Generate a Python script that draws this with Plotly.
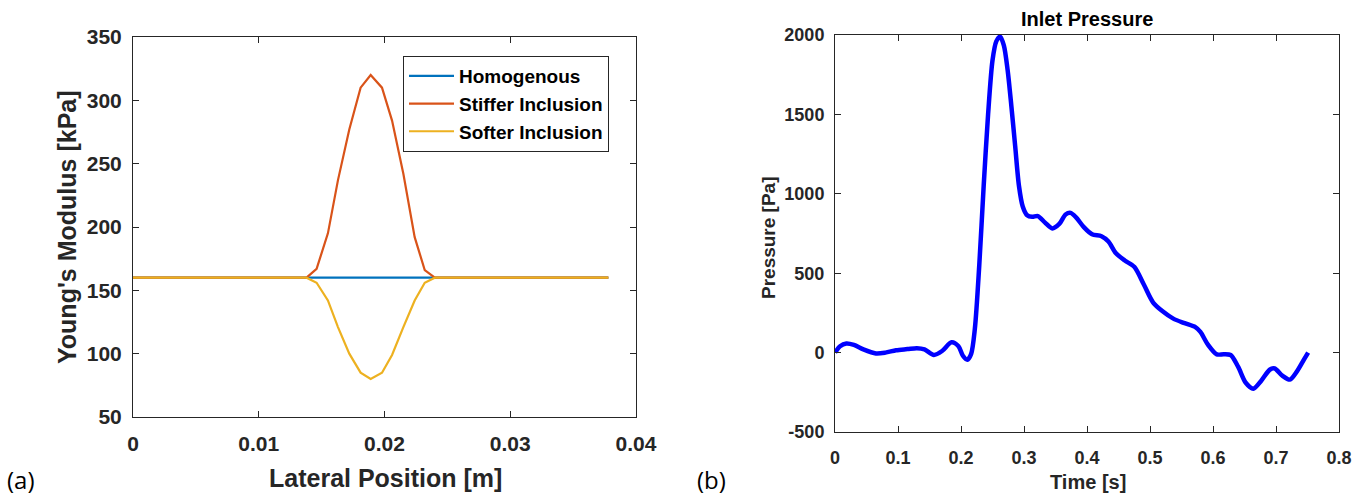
import plotly.graph_objects as go

# ---- (a) Young's modulus profiles across the lateral position ----
lateral_pos_m = [0.0, 0.0138, 0.0146, 0.0155, 0.0163, 0.0172, 0.0181, 0.0189,
                 0.0198, 0.0206, 0.0215, 0.0224, 0.0232, 0.0240, 0.0378]
homogenous_kpa = [160, 160, 160, 160, 160, 160, 160, 160,
                  160, 160, 160, 160, 160, 160, 160]
stiffer_kpa = [160, 160, 167, 195, 237, 277, 310, 320,
               310, 284, 242, 192, 166, 160, 160]
softer_kpa = [160, 160, 156, 142, 121, 100, 85, 80,
              85, 99, 121, 142, 156, 160, 160]

x_ticks_a = [0, 0.01, 0.02, 0.03, 0.04]
x_ticktext_a = ["0", "0.01", "0.02", "0.03", "0.04"]
y_ticks_a = [50, 100, 150, 200, 250, 300, 350]

# ---- (b) inlet pressure waveform over one cycle ----
time_s = [0.000, 0.008, 0.018, 0.030, 0.045, 0.065, 0.080, 0.097, 0.115, 0.130,
          0.142, 0.157, 0.170, 0.185, 0.196, 0.203, 0.210, 0.216, 0.222, 0.229,
          0.236, 0.243, 0.250, 0.256, 0.262, 0.268, 0.274, 0.280, 0.286, 0.292,
          0.298, 0.305, 0.313, 0.322, 0.333, 0.345, 0.356, 0.366, 0.374, 0.383,
          0.395, 0.408, 0.423, 0.434, 0.446, 0.460, 0.475, 0.490, 0.505, 0.520,
          0.537, 0.555, 0.572, 0.580, 0.592, 0.606, 0.617, 0.628, 0.640, 0.652,
          0.664, 0.676, 0.690, 0.698, 0.710, 0.722, 0.733, 0.745, 0.751]
pressure_pa = [0, 40, 57, 48, 20, -5, 0, 15, 22, 28,
               20, -15, 10, 65, 40, -20, -45, -10, 150, 550,
               1050, 1500, 1840, 1960, 1990, 1935, 1780, 1550, 1300, 1050,
               920, 865, 855, 860, 820, 782, 810, 870, 880, 850,
               790, 745, 733, 700, 625, 580, 540, 430, 315, 260,
               214, 185, 160, 130, 50, -11, -10, -15, -90, -190,
               -227, -180, -108, -100, -145, -170, -120, -40, 0]

x_ticks_b = [0, 0.1, 0.2, 0.3, 0.4, 0.5, 0.6, 0.7, 0.8]
x_ticktext_b = ["0", "0.1", "0.2", "0.3", "0.4", "0.5", "0.6", "0.7", "0.8"]
y_ticks_b = [-500, 0, 500, 1000, 1500, 2000]
y_ticktext_b = ["-500", "0", "500", "1000", "1500", "2000"]

W, H = 1368, 500
AX = "#262626"
FONT = "Liberation Sans, Arial, sans-serif"


def px_x(p):
    return p / W


def px_y(p):
    return 1 - p / H


fig = go.Figure()
fig.add_trace(go.Scatter(x=lateral_pos_m, y=homogenous_kpa, mode="lines",
                         name="Homogenous", line=dict(color="#0072BD", width=2.2),
                         xaxis="x", yaxis="y"))
fig.add_trace(go.Scatter(x=lateral_pos_m, y=stiffer_kpa, mode="lines",
                         name="Stiffer Inclusion", line=dict(color="#D95319", width=2.2),
                         xaxis="x", yaxis="y"))
fig.add_trace(go.Scatter(x=lateral_pos_m, y=softer_kpa, mode="lines",
                         name="Softer Inclusion", line=dict(color="#EDB120", width=2.2),
                         xaxis="x", yaxis="y"))
fig.add_trace(go.Scatter(x=time_s, y=pressure_pa, mode="lines", showlegend=False,
                         line=dict(color="#0000FF", width=4.5, shape="spline", smoothing=0.8),
                         xaxis="x2", yaxis="y2"))


def axis_style(size):
    return dict(showline=True, linecolor=AX, linewidth=1, mirror="ticks",
                ticks="inside", ticklen=6, tickcolor=AX, tickwidth=1,
                showgrid=False, zeroline=False, automargin=False,
                tickfont=dict(family=FONT, color=AX, weight="bold", size=size))


fig.update_layout(
    width=W, height=H,
    margin=dict(l=0, r=0, t=0, b=0, pad=0, autoexpand=False),
    paper_bgcolor="white", plot_bgcolor="white",
    xaxis=dict(domain=[px_x(133), px_x(636)], range=[0, 0.04],
               tickvals=x_ticks_a, ticktext=x_ticktext_a, anchor="y",
               ticklabelstandoff=8, **axis_style(21)),
    yaxis=dict(domain=[px_y(417), px_y(37)], range=[50, 350],
               tickvals=y_ticks_a, anchor="x", ticklabelstandoff=6,
               **axis_style(21)),
    xaxis2=dict(domain=[px_x(835), px_x(1339)], range=[0, 0.8],
                tickvals=x_ticks_b, ticktext=x_ticktext_b, anchor="y2",
                ticklabelstandoff=9, **axis_style(18)),
    yaxis2=dict(domain=[px_y(432), px_y(35)], range=[-500, 2000],
                tickvals=y_ticks_b, ticktext=y_ticktext_b, anchor="x2",
                ticklabelstandoff=6, **axis_style(18)),
    legend=dict(x=px_x(403), y=px_y(56), xanchor="left", yanchor="top",
                bgcolor="white", bordercolor=AX, borderwidth=1,
                font=dict(family=FONT, size=19, color="black", weight="bold"),
                itemwidth=45, tracegroupgap=0),
    showlegend=True,
)

annotations = [
    dict(text="Lateral Position [m]", x=px_x(385), y=px_y(478),
         font=dict(family=FONT, size=25, color=AX, weight="bold")),
    dict(text="Young's Modulus [kPa]", x=px_x(67), y=px_y(227), textangle=-90,
         font=dict(family=FONT, size=25, color=AX, weight="bold")),
    dict(text="Time [s]", x=px_x(1088), y=px_y(482),
         font=dict(family=FONT, size=20, color=AX, weight="bold")),
    dict(text="Pressure [Pa]", x=px_x(768), y=px_y(238), textangle=-90,
         font=dict(family=FONT, size=19, color=AX, weight="bold")),
    dict(text="Inlet Pressure", x=px_x(1087), y=px_y(19),
         font=dict(family=FONT, size=20, color="black", weight="bold")),
    dict(text="(a)", x=px_x(21), y=px_y(479),
         font=dict(family="Open Sans, sans-serif", size=24, color="black")),
    dict(text="(b)", x=px_x(711), y=px_y(479),
         font=dict(family="Open Sans, sans-serif", size=24, color="black")),
]
for a in annotations:
    a.update(xref="paper", yref="paper", showarrow=False,
             xanchor="center", yanchor="middle")
fig.update_layout(annotations=annotations)

fig.write_html("out.html")
